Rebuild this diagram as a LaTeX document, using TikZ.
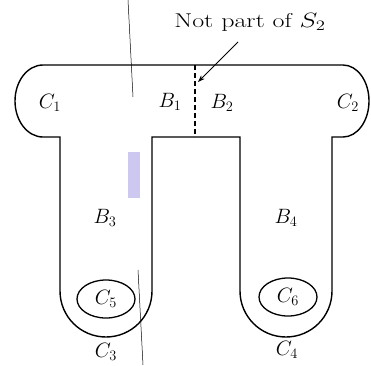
\documentclass[tikz,border=0pt]{standalone}
\usepackage{graphicx}
\usetikzlibrary{arrows.meta,shapes.geometric}
\definecolor{lav}{RGB}{205,200,240}
\begin{document}
\begin{tikzpicture}[x=1pt,y=1pt,
  outline/.style={line width=1.4pt,black},
  lbl/.style={font=\fontsize{21}{24}\selectfont,inner sep=0pt},
  thin/.style={line width=0.5pt,black},
  ring/.style={ellipse,draw,line width=1.3pt,minimum width=58pt,minimum height=38pt,inner sep=0pt}]
\useasboundingbox (0,0) rectangle (371,365);
% lavender artifact
\fill[lav] (128,213) rectangle (140,167);
% outline
\draw[outline] (43,300) -- (343,300)
  arc[start angle=90,end angle=-90,x radius=26,y radius=36]
  -- (332,228) -- (332,74)
  arc[start angle=0,end angle=-180,radius=46]
  -- (240,228) -- (152,228) -- (152,74)
  arc[start angle=0,end angle=-180,radius=46]
  -- (60,228) -- (43,228)
  arc[start angle=270,end angle=90,x radius=28,y radius=36] -- cycle;
% dashed divider
\coordinate (dtop) at (195,300);
\coordinate (dbot) at (195,228);
\draw[line width=1.4pt,dash pattern=on 5pt off 3pt] (dtop) -- (dbot);
% labels
\node[lbl] (c1) at (50,262) {$C_1$};
\node[lbl] (b1) at (170,263) {$B_1$};
\node[lbl] (b2) at (222,262) {$B_2$};
\node[lbl] (c2) at (348,262) {$C_2$};
\node[lbl] (b3) at (105,147) {$B_3$};
\node[lbl] (b4) at (286,147) {$B_4$};
\node[ring] (e5) at (106,66) {};
\node[lbl] (c5) at (106,66) {$C_5$};
\node[ring] (e6) at (288,68) {};
\node[lbl] (c6) at (288,68) {$C_6$};
\node[lbl] (c3) at (106,13) {$C_3$};
\node[lbl] (c4) at (287,15) {$C_4$};
\node[inner sep=0pt,font=\fontsize{20}{24}\selectfont] (note) at (250,343) {\scalebox{1.3}[1]{Not part of $S_2$}};
% arrow
\coordinate (as) at (238,323);
\coordinate (ae) at (198,283);
\draw[line width=1pt,-{Stealth[length=7pt,width=5pt]}] (as) -- (ae);
% thin scan lines
\coordinate (t1a) at (128,365); \coordinate (t1b) at (133,268);
\coordinate (t2a) at (138,95); \coordinate (t2b) at (143,0);
\draw[thin] (t1a) -- (t1b);
\draw[thin] (t2a) -- (t2b);
\end{tikzpicture}
\end{document}
